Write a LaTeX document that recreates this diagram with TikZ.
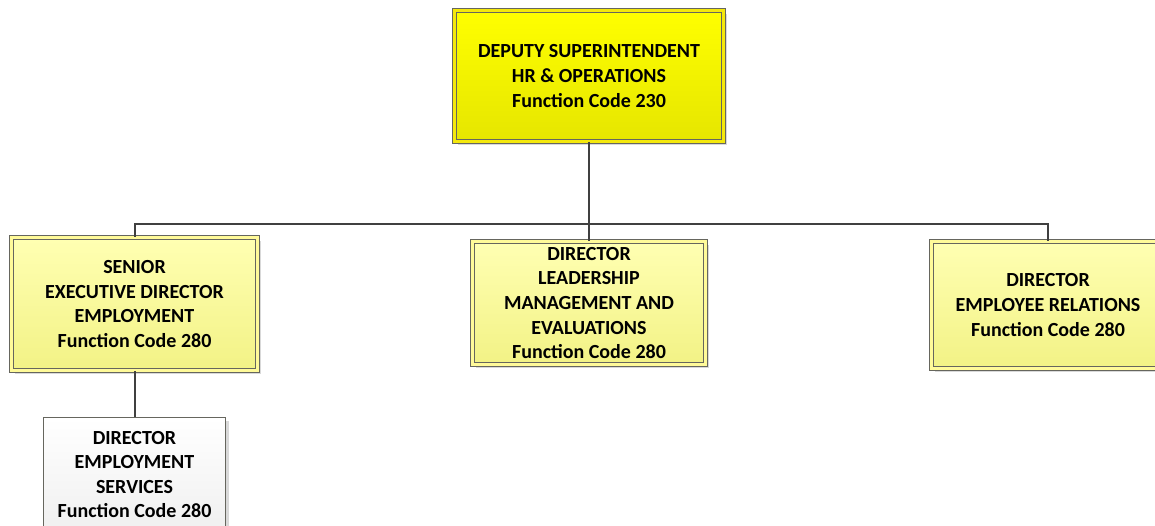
\documentclass[tikz,border=0pt]{standalone}
\usepackage{fontspec}
\setmainfont{Carlito}
\usetikzlibrary{shadows}

\definecolor{linegray}{HTML}{404040}
\definecolor{boxedge}{HTML}{66665E}

\tikzset{
  post/.style={draw=boxedge, line width=0.75pt, align=center, inner sep=0pt,
    font=\fontsize{15}{18.4}\selectfont\bfseries,
    drop shadow={shadow xshift=2.5pt, shadow yshift=-2.5pt, opacity=0.25, fill=black!60}},
  headpost/.style={post, double=yellow!95!black, double distance=2.6pt,
    top color=yellow, bottom color=yellow!90!black},
  leadpost/.style={post, double=yellow!40, double distance=2.6pt,
    top color=yellow!30, bottom color=yellow!45!white!95!black},
  subpost/.style={post, top color=white, bottom color=black!6},
  link/.style={draw=linegray, line width=1.5pt}
}

\begin{document}
\begin{tikzpicture}[x=0.75pt,y=-0.75pt]
    \useasboundingbox (0,0) rectangle (1155,525);

    % draw boxes
    \node[headpost, minimum width=202pt, minimum height=98.5pt] (deputy) at (589,76)
      {DEPUTY SUPERINTENDENT\\HR \& OPERATIONS\\Function Code 230};
    \node[leadpost, minimum width=184.75pt, minimum height=100pt] (senior) at (134.5,304)
      {SENIOR\\EXECUTIVE DIRECTOR\\EMPLOYMENT\\Function Code 280};
    \node[leadpost, minimum width=175pt, minimum height=92.5pt] (leadership) at (589,303)
      {DIRECTOR\\LEADERSHIP\\MANAGEMENT AND\\EVALUATIONS\\Function Code 280};
    \node[leadpost, minimum width=175pt, minimum height=95.5pt] (relations) at (1048,305)
      {DIRECTOR\\EMPLOYEE RELATIONS\\Function Code 280};
    \node[subpost, minimum width=137pt, minimum height=85pt] (services) at (134.5,474.5)
      {DIRECTOR\\EMPLOYMENT\\SERVICES\\Function Code 280};

    % draw connectors
    \coordinate (bus) at (589,224);
    \draw[link] (deputy.south) -- (bus);
    \draw[link] (senior.north) |- (bus) -| (relations.north);
    \draw[link] (bus) -- (leadership.north);
    \draw[link] (senior.south) -- (services.north);
\end{tikzpicture}
\end{document}
